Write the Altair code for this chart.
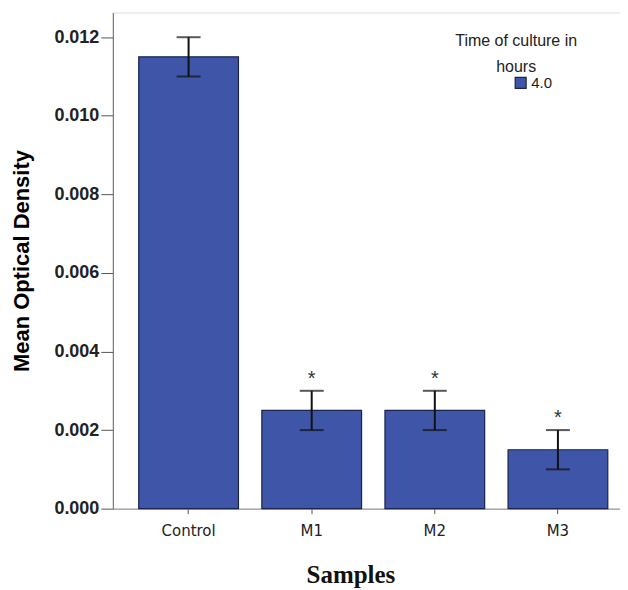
import altair as alt
import pandas as pd

samples = ["Control", "M1", "M2", "M3"]
means = [0.0115, 0.0025, 0.0025, 0.0015]
lower = [0.0110, 0.0020, 0.0020, 0.0010]
upper = [0.0120, 0.0030, 0.0030, 0.0020]
stars = ["", "*", "*", "*"]
time_group = ["4.0", "4.0", "4.0", "4.0"]

df = pd.DataFrame({
    "Samples": samples,
    "mean": means,
    "lo": lower,
    "hi": upper,
    "star": stars,
    "time": time_group,
})

x = alt.X(
    "Samples:N",
    sort=samples,
    scale=alt.Scale(paddingInner=0.19, paddingOuter=0.167, align=0.63),
    axis=alt.Axis(
        title="Samples",
        titleFont="Liberation Serif",
        titleFontSize=25,
        titleFontWeight="bold",
        titleColor="#111111",
        titleX=238,
        titlePadding=24,
        labelFont="DejaVu Sans",
        labelFontSize=15,
        labelColor="#222222",
        labelAngle=0,
        labelPadding=10,
        tickSize=5,
        tickColor="#555555",
        domainColor="#888888",
    ),
)

yscale = alt.Scale(domain=[0, 0.01263], nice=False, zero=True)

bars = alt.Chart(df).mark_bar(stroke="#1a2350", strokeWidth=1.2).encode(
    x=x,
    y=alt.Y(
        "mean:Q",
        scale=yscale,
        axis=alt.Axis(
            title="Mean Optical Density",
            titleFont="Liberation Sans",
            titleFontSize=22,
            titleFontWeight="bold",
            titleColor="#000000",
            titlePadding=20,
            values=[0, 0.002, 0.004, 0.006, 0.008, 0.010, 0.012],
            format=".3f",
            labelFont="Liberation Sans",
            labelFontSize=18,
            labelFontWeight="bold",
            labelColor="#222222",
            labelPadding=2,
            tickSize=12,
            tickColor="#555555",
            domainColor="#666666",
            grid=False,
        ),
    ),
    color=alt.Color(
        "time:N",
        scale=alt.Scale(range=["#3f56a8"]),
        legend=alt.Legend(
            title=["Time of culture in", "hours"],
            orient="none",
            legendX=343,
            legendY=21,
            titleFont="Liberation Sans",
            titleFontSize=16,
            titleFontWeight="normal",
            titleColor="#222222",
            titleAlign="center",
            titleAnchor="middle",
            titleLineHeight=26,
            titlePadding=0,
            labelFont="Liberation Sans",
            labelFontSize=15,
            labelColor="#222222",
            symbolType="square",
            symbolSize=120,
            symbolStrokeColor="#1a2350",
            symbolStrokeWidth=1.2,
            symbolOffset=32,
            labelOffset=3,
        ),
    ),
)

rules = alt.Chart(df).mark_rule(color="#111111", strokeWidth=2).encode(
    x=alt.X("Samples:N", sort=samples),
    y=alt.Y("lo:Q", scale=yscale),
    y2="hi:Q",
)

caps_hi = alt.Chart(df).mark_tick(color="#111111", thickness=2, size=24, orient="horizontal").encode(
    x=alt.X("Samples:N", sort=samples),
    y=alt.Y("hi:Q", scale=yscale),
)

caps_lo = alt.Chart(df).mark_tick(color="#111111", thickness=2, size=24, orient="horizontal").encode(
    x=alt.X("Samples:N", sort=samples),
    y=alt.Y("lo:Q", scale=yscale),
)

star_text = alt.Chart(df).mark_text(
    font="Liberation Sans", fontSize=20, color="#333333", baseline="middle", dy=-12
).encode(
    x=alt.X("Samples:N", sort=samples),
    y=alt.Y("hi:Q", scale=yscale),
    text="star:N",
)

chart = (
    alt.layer(bars, rules, caps_hi, caps_lo, star_text)
    .properties(width=511, height=497, padding={"top": 4, "left": 2, "right": -3, "bottom": 0})
    .configure_view(stroke="#999999", strokeWidth=1.5)
    .configure(background="white")
)

chart.save("out.html", embed_options={"renderer": "svg", "actions": False})
